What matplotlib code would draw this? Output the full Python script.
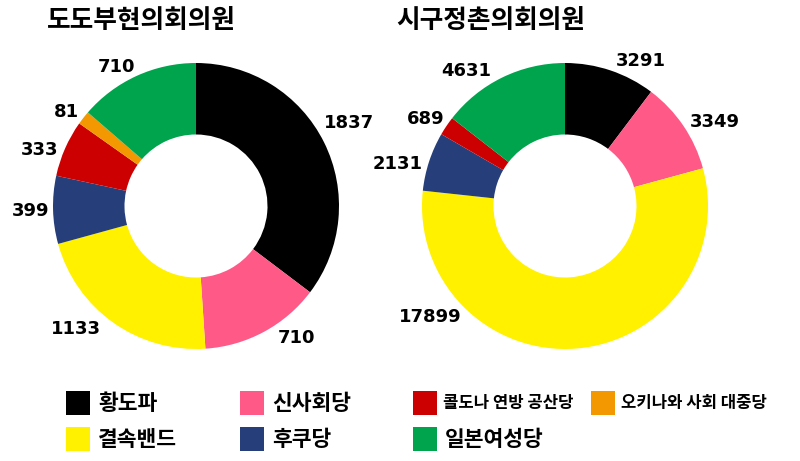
import numpy as np
import matplotlib
matplotlib.use("Agg")
import matplotlib.pyplot as plt
from matplotlib.patches import Rectangle

plt.rcParams['font.family'] = ['Noto Sans CJK KR', 'DejaVu Sans']

# ---- data ----
colors = {
    "황도파": "#000000",
    "신사회당": "#FF5A87",
    "결속밴드": "#FFF100",
    "후쿠당": "#263F7A",
    "콜도나 연방 공산당": "#CC0000",
    "오키나와 사회 대중당": "#F39800",
    "일본여성당": "#00A44C",
}
pref_title = "도도부현의회의원"
pref_parties = ["황도파", "신사회당", "결속밴드", "후쿠당", "콜도나 연방 공산당", "오키나와 사회 대중당", "일본여성당"]
pref_values = [1837, 710, 1133, 399, 333, 81, 710]

muni_title = "시구정촌의회의원"
muni_parties = ["황도파", "신사회당", "결속밴드", "후쿠당", "콜도나 연방 공산당", "일본여성당"]
muni_values = [3291, 3349, 17899, 2131, 689, 4631]

legend_rows = [
    ["황도파", "신사회당", "콜도나 연방 공산당", "오키나와 사회 대중당"],
    ["결속밴드", "후쿠당", "일본여성당"],
]
small_labels = {"콜도나 연방 공산당", "오키나와 사회 대중당"}

# label placement style (clockwise angular nudge in degrees, radial distance)
pref_label_nudge = [-2, -9, 9, 0, -4, -2, -5]
pref_label_dist = [1.22, 1.16, 1.2, 1.16, 1.16, 1.12, 1.12]
muni_label_nudge = [9, 5, 55, -4, -2, -10]
muni_label_dist = [1.14, 1.2, 1.22, 1.21, 1.15, 1.17]

W, H = 800, 461
fig = plt.figure(figsize=(W / 100, H / 100), dpi=100)


def fx(px):
    return px / W


def fy(py):
    return 1 - py / H


def donut(cx, cy, R, names, vals, title, title_x, nudge, dist):
    ax = fig.add_axes([fx(cx - R), fy(cy + R), 2 * R / W, 2 * R / H])
    wedges, _ = ax.pie(
        vals,
        colors=[colors[n] for n in names],
        startangle=90,
        counterclock=False,
        radius=1,
        wedgeprops=dict(width=0.5, linewidth=0),
    )
    for w, v, nd, d in zip(wedges, vals, nudge, dist):
        mid = 0.5 * (w.theta1 + w.theta2) - nd
        a = np.deg2rad(mid)
        ax.text(d * np.cos(a), d * np.sin(a), str(v), family='DejaVu Sans',
                fontweight='bold', fontsize=13, ha='center', va='center')
    ax.set_xlim(-1, 1)
    ax.set_ylim(-1, 1)
    ax.set_aspect('equal')
    ax.axis('off')
    fig.text(fx(title_x), fy(21), title, fontsize=18.5, fontweight='bold',
             ha='left', va='center')


donut(196, 206, 143, pref_parties, pref_values, pref_title, 47, pref_label_nudge, pref_label_dist)
donut(565, 206, 143, muni_parties, muni_values, muni_title, 396, muni_label_nudge, muni_label_dist)

# ---- legend ----
col_x = [66, 240, 413, 591]
row_y = [403, 439]
sq = 24
for r, row in enumerate(legend_rows):
    for c, name in enumerate(row):
        x0 = col_x[c]
        yc = row_y[r]
        fig.patches.append(Rectangle((fx(x0), fy(yc + sq / 2)), sq / W, sq / H,
                                     transform=fig.transFigure,
                                     facecolor=colors[name], edgecolor='none'))
        if name in small_labels:
            fig.text(fx(x0 + sq + 6), fy(yc), name, fontsize=12, fontweight='bold',
                     ha='left', va='center')
        else:
            fig.text(fx(x0 + sq + 8), fy(yc), name, fontsize=15.5, fontweight='bold',
                     ha='left', va='center')

fig.savefig("out.png", dpi=100, facecolor='white')
